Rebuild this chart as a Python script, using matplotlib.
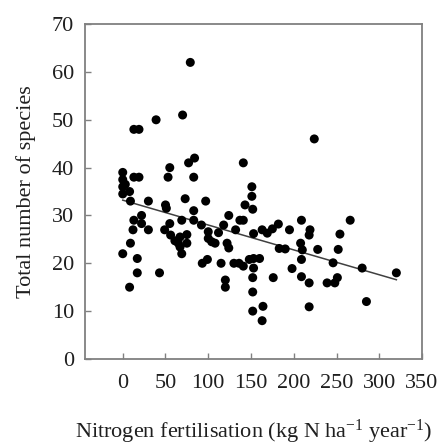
import matplotlib
matplotlib.use("Agg")
import matplotlib.pyplot as plt
import numpy as np

# species richness against N fertilisation, one dot per site
nitrogen = [
    79, 39, 70, 13, 19,
    0, 13, 19, 55, 53, 77, 84, 83, 141, 224,
    0, 0, 0, 3, 8, 9,
    30, 73, 97, 50, 51, 83, 143, 152, 151, 151,
    22, 13, 22, 69, 83, 55, 92, 118, 124, 137, 141,
    30, 12, 49, 56, 61, 65, 67, 67, 75, 75, 69, 100, 100, 104, 108, 112,
    122, 124, 132, 153, 163, 169, 175, 182, 195, 209, 219, 218, 254, 266,
    183, 190, 208, 210, 209, 228, 246, 252, 280, 320,
    0, 9, 17, 17, 8, 43, 93, 99, 115, 120, 120, 130, 136, 141, 148, 153,
    160, 153, 152, 152, 152, 163, 164, 176, 198, 209, 218, 239, 248, 251,
    285, 218,
]
species = [
    62, 50, 51, 48, 48,
    39, 38, 38, 40, 38, 41, 42, 38, 41, 46,
    37.5, 36, 34.5, 36.5, 35, 33,
    33, 33.5, 33, 32.2, 31.5, 31, 32.2, 31.3, 36, 34,
    30, 29, 28.3, 29, 29, 28.3, 28, 28, 30, 29, 29,
    27, 27, 27, 25.9, 24.7, 24.2, 25.5, 23.4, 26, 24.2, 22, 26.6, 25.2, 24.5, 24.2, 26.4,
    24.2, 23.2, 27, 26.2, 27, 26.3, 27.2, 28.2, 27, 29, 27, 25.9, 26.1, 29,
    23.1, 23, 24.2, 22.8, 20.8, 22.9, 20.1, 22.9, 19, 18,
    22, 24.2, 21, 18, 15, 18, 20, 20.8, 20, 16.5, 15, 20, 20, 19.4, 20.8, 21,
    21, 19, 17, 14, 10, 8, 11, 17, 18.9, 17.2, 15.9, 15.9, 15.9, 17,
    12, 10.9,
]

# least-squares line as printed with the figure
fit_intercept = 33.2
fit_slope = -0.052

x_ticks = [0, 50, 100, 150, 200, 250, 300, 350]
y_ticks = [0, 10, 20, 30, 40, 50, 60, 70]

plt.rcParams['font.family'] = ['Liberation Serif', 'DejaVu Serif']
plt.rcParams['mathtext.fontset'] = 'custom'
plt.rcParams['mathtext.rm'] = 'Liberation Serif'
plt.rcParams['mathtext.it'] = 'Liberation Serif:italic'

text_col = '#1f1f1f'
axis_col = '#808080'

fig = plt.figure(figsize=(4.48, 4.47), dpi=100)
ax = fig.add_axes([0.190, 0.197, 0.752, 0.749])

ax.scatter(nitrogen, species, s=42, color='black', edgecolors='none', zorder=3)

fit_x = np.array([min(nitrogen), max(nitrogen)])
ax.plot(fit_x, fit_intercept + fit_slope * fit_x, color='#404040', lw=1.1, zorder=2)

ax.set_xlim(-44, 350)
ax.set_ylim(0, 70)
ax.set_xticks(x_ticks)
ax.set_yticks(y_ticks)

for sp in ax.spines.values():
    sp.set_color(axis_col)
    sp.set_linewidth(1.3)

ax.tick_params(axis='both', direction='in', length=4, width=1, color=axis_col,
               labelsize=16, labelcolor=text_col)
ax.tick_params(axis='x', pad=11)
ax.tick_params(axis='y', pad=8)

ax.set_xlabel('Nitrogen fertilisation (kg N ha$^{-1}$ year$^{-1}$)',
              fontsize=16, color=text_col, labelpad=18)
ax.set_ylabel('Total number of species', fontsize=16, color=text_col, labelpad=11)

fig.savefig('out.png', dpi=100)
